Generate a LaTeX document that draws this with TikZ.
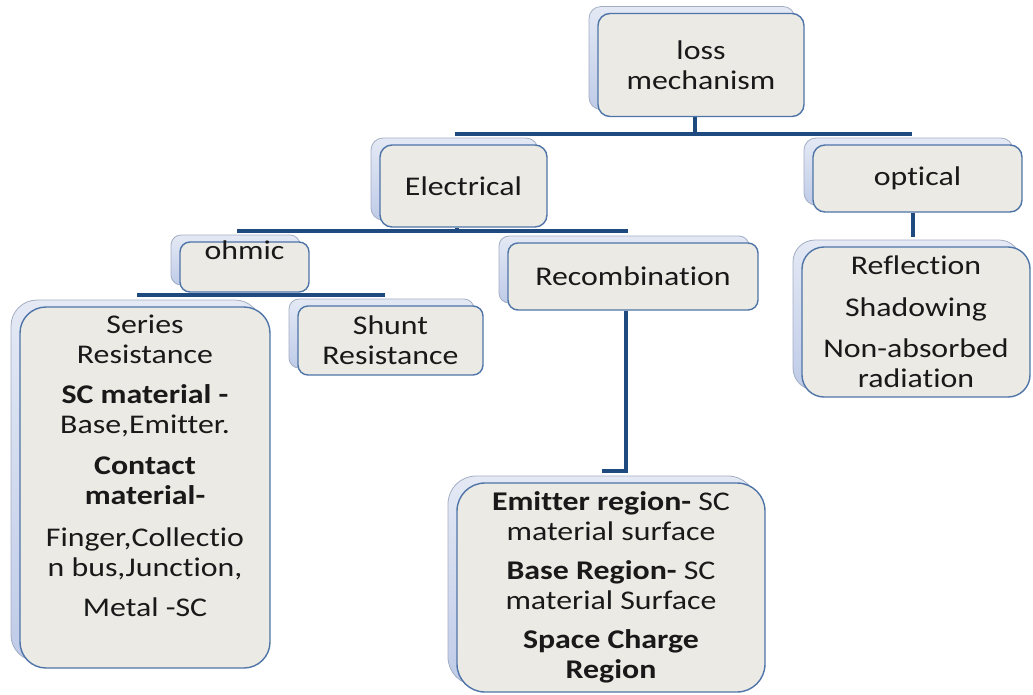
\documentclass[tikz,border=0pt]{standalone}
\usepackage{fontspec}
\setmainfont{Carlito}[FakeStretch=1.18, RawFeature={-liga;-clig;-calt;-dlig}]
\usepackage{xcolor}
\usepackage{tikz}
\definecolor{boxfill}{HTML}{EBEAE4}
\definecolor{boxline}{HTML}{4F74A8}
\definecolor{backtop}{HTML}{E4E9F4}
\definecolor{backbottom}{HTML}{BFCBE8}
\definecolor{backline}{HTML}{A3AEC4}
\definecolor{busline}{HTML}{1F4A80}
\usetikzlibrary{shapes, positioning, calc, shadows, backgrounds}

\begin{document}
\begin{tikzpicture}[x=1pt, y=-1pt,
    box/.style={draw=boxline, line width=1.4pt, fill=boxfill, rectangle, rounded corners=12pt,
        inner sep=0pt, align=center, text=black!90, font=\fontsize{27}{30}\selectfont,
        copy shadow={shadow xshift=-9pt, shadow yshift=7pt, top color=backtop,
            bottom color=backbottom, draw=backline, line width=0.8pt}},
    bus/.style={draw=busline, line width=4pt}]
    \useasboundingbox (0,0) rectangle (1033,694);

    \node[box, minimum width=206pt, minimum height=103pt] (loss) at (701,65) {loss\\mechanism};

    \node[box, minimum width=167pt, minimum height=82pt] (elec) at (463.5,186) {Electrical};

    \node[box, minimum width=209pt, minimum height=67pt] (optical) at (917.5,178.5) {optical};

    \node[box, rounded corners=10pt, minimum width=129pt, minimum height=50pt] (ohmic) at (244.5,267) {\raisebox{8pt}[0pt][0pt]{ohmic}};

    \node[box, rounded corners=10pt, minimum width=250pt, minimum height=67pt] (recomb) at (633,276.5) {Recombination};

    \node[box, rounded corners=26pt] (series) at (145,487.5) {\parbox[c][361pt][t]{250pt}{\centering\vspace*{8pt}%
        Series\\Resistance\\[10pt]
        \textbf{SC material -}\\Base,Emitter.\\[11pt]
        \textbf{Contact}\\\textbf{material-}\\[12pt]
        Finger,Collectio\\n bus,Junction,\\[10pt]
        Metal -SC}};

    \node[box, rounded corners=10pt, minimum width=185pt, minimum height=69pt] (shunt) at (390.5,340.5) {Shunt\\Resistance};

    \node[box, rounded corners=22pt, minimum width=228pt, minimum height=150pt] (refl) at (916,322) {Reflection\\[12pt]Shadowing\\[11pt]Non-absorbed\\radiation};

    \node[box, rounded corners=28pt, minimum width=308pt, minimum height=209pt] (emit) at (611,587.5) {\textbf{Emitter region-} SC\\material surface\\[9pt]
        \textbf{Base Region-} SC\\material Surface\\[9pt]
        \textbf{Space Charge}\\\textbf{Region}};

    % connectors
    \begin{scope}[on background layer]
        \draw[bus] ([xshift=-6pt]loss.south) |- ([xshift=-8.5pt,yshift=10pt]elec.north);
        \draw[bus] ([xshift=-6pt]loss.south) |- ([xshift=-5.5pt,yshift=10pt]optical.north);
        \draw[bus] ([xshift=-6.5pt]elec.south) |- ([xshift=-7.5pt,yshift=10pt]ohmic.north);
        \draw[bus] ([xshift=-6.5pt]elec.south) |- ([xshift=-5pt,yshift=11pt]recomb.north);
        \draw[bus] ([xshift=-6.5pt]ohmic.south) |- ([xshift=-8pt,yshift=11pt]series.north);
        \draw[bus] ([xshift=-6.5pt]ohmic.south) |- ([xshift=-5.5pt,yshift=10pt]shunt.north);
        \draw[bus] ([xshift=-7pt]recomb.south) |- ([xshift=-9pt,yshift=11pt]emit.north);
        \draw[bus] ([xshift=-4.5pt]optical.south) -- ([xshift=-3pt,yshift=9pt]refl.north);
    \end{scope}
\end{tikzpicture}
\end{document}
